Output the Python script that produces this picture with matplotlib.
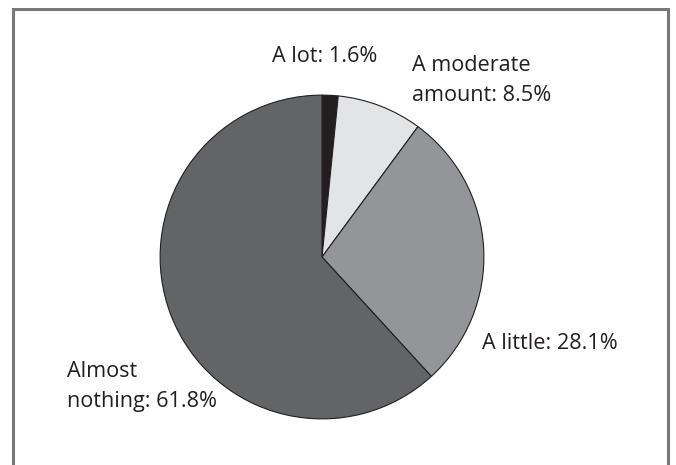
import matplotlib
matplotlib.use('Agg')
import matplotlib.pyplot as plt
from matplotlib.lines import Line2D

# Datos del grafico
categorias = ['A lot', 'A moderate\namount', 'A little', 'Almost\nnothing']
porcentajes = [1.6, 8.5, 28.1, 61.8]
colores = ['#231f20', '#e3e4e5', '#939598', '#636466']

plt.rcParams['font.family'] = ['Open Sans', 'DejaVu Sans']

W, H = 676, 465
fig = plt.figure(figsize=(W / 100, H / 100), dpi=100)

# marco gris (izquierda, arriba, derecha)
marco = Line2D([13 / W, 13 / W, 668 / W, 668 / W],
               [0, 1 - 9 / H, 1 - 9 / H, 0],
               transform=fig.transFigure, color='#78787b', lw=2.2,
               solid_joinstyle='miter')
fig.add_artist(marco)

# pie
cx, cy, r = 322, 257, 163.5
ax = fig.add_axes([(cx - r) / W, (H - cy - r) / H, 2 * r / W, 2 * r / H])
ax.pie(porcentajes, colors=colores, startangle=90, counterclock=False,
       wedgeprops=dict(edgecolor='#231f20', linewidth=0.8))
ax.set_xlim(-1.01, 1.01)
ax.set_ylim(-1.01, 1.01)
ax.set_aspect('equal')
ax.axis('off')

# etiquetas (posicion en pixeles: izquierda, linea base de la ultima linea)
posiciones = [(272, 62), (412, 101), (482, 349), (67, 407)]
for cat, p, (px, py) in zip(categorias, porcentajes, posiciones):
    fig.text(px / W, 1 - py / H, f'{cat}: {p}%', fontsize=15.6,
             color='#231f20', ha='left', va='baseline', linespacing=1.55)

plt.savefig('out.png', dpi=100)
